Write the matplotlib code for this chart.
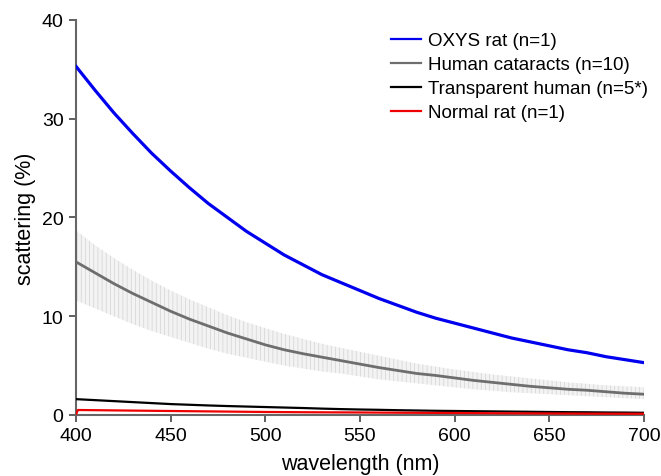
import matplotlib
matplotlib.use("Agg")
import matplotlib.pyplot as plt
import numpy as np

plt.rcParams['font.family'] = ['Liberation Sans', 'DejaVu Sans']
plt.rcParams['hatch.linewidth'] = 0.5

# values (every 10 nm)
wl = list(range(400, 701, 10))
oxys_rat = [35.3, 32.9, 30.6, 28.5, 26.5, 24.7, 23.0, 21.4, 20.0, 18.6,
            17.4, 16.2, 15.2, 14.2, 13.4, 12.6, 11.8, 11.1, 10.4, 9.8,
            9.3, 8.8, 8.3, 7.8, 7.4, 7.0, 6.6, 6.3, 5.9, 5.6, 5.3]
cataract = [15.5, 14.4, 13.3, 12.3, 11.4, 10.5, 9.7, 9.0, 8.3, 7.7,
            7.1, 6.6, 6.2, 5.85, 5.5, 5.15, 4.8, 4.5, 4.2, 4.0,
            3.75, 3.5, 3.3, 3.1, 2.9, 2.75, 2.6, 2.5, 2.35, 2.2, 2.1]
cataract_hi = [18.7, 17.2, 15.9, 14.7, 13.6, 12.6, 11.7, 10.9, 10.1, 9.4,
               8.8, 8.2, 7.7, 7.2, 6.8, 6.4, 6.0, 5.6, 5.2, 4.9,
               4.6, 4.35, 4.1, 3.9, 3.7, 3.5, 3.3, 3.15, 3.0, 2.9, 2.8]
cataract_lo = [11.6, 10.8, 10.0, 9.2, 8.5, 7.9, 7.3, 6.7, 6.2, 5.8,
               5.4, 5.0, 4.7, 4.4, 4.2, 3.9, 3.6, 3.4, 3.2, 3.0,
               2.8, 2.6, 2.45, 2.3, 2.2, 2.1, 2.0, 1.9, 1.8, 1.7, 1.6]
transp_human = [1.6, 1.5, 1.4, 1.3, 1.2, 1.1, 1.03, 0.96, 0.9, 0.85,
                0.8, 0.75, 0.7, 0.64, 0.59, 0.55, 0.52, 0.48, 0.45, 0.42,
                0.4, 0.38, 0.36, 0.34, 0.32, 0.3, 0.28, 0.27, 0.25, 0.24, 0.22]
red_wl = [400, 401, 425, 450, 475, 500, 525, 550, 575, 600, 625, 650, 675, 700]
normal_rat = [0.05, 0.5, 0.45, 0.4, 0.35, 0.3, 0.27, 0.25, 0.22, 0.2, 0.17, 0.15, 0.13, 0.12]

labels = ['OXYS rat (n=1)', 'Human cataracts (n=10)',
          'Transparent human (n=5*)', 'Normal rat (n=1)']

fig = plt.figure(figsize=(6.61, 4.77), dpi=100)
ax = fig.add_axes([0.115, 0.128, 0.859, 0.828])

# error band (dense vertical bars in the original)
ax.fill_between(wl, cataract_lo, cataract_hi, facecolor='#f3f3f3',
                edgecolor='#d2d2d2', hatch='||||', linewidth=0, zorder=1)

ax.plot(wl, oxys_rat, color='#0000ee', lw=2.3, label=labels[0], zorder=3)
ax.plot(wl, cataract, color='#6e6e6e', lw=2.0, label=labels[1], zorder=3)
ax.plot(wl, transp_human, color='black', lw=1.6, label=labels[2], zorder=3)
ax.plot(red_wl, normal_rat, color='#ee0000', lw=1.6, label=labels[3], zorder=3)

ax.set_xlim(400, 700)
ax.set_ylim(0, 40)
ax.set_xticks([400, 450, 500, 550, 600, 650, 700])
ax.set_yticks([0, 10, 20, 30, 40])

for s in ['top', 'right']:
    ax.spines[s].set_visible(False)
for s in ['left', 'bottom']:
    ax.spines[s].set_color('#666666')
    ax.spines[s].set_linewidth(1.5)
ax.tick_params(direction='out', length=5, width=1.2, color='#444444',
               labelsize=14, pad=4)

ax.set_xlabel('wavelength (nm)', fontsize=15.5, labelpad=6)
ax.set_ylabel('scattering (%)', fontsize=15.5, labelpad=4)

leg = ax.legend(loc='upper left', bbox_to_anchor=(391 / 661, 1 - 33 / 477),
                bbox_transform=fig.transFigure, frameon=False, fontsize=13.5,
                handlelength=1.6, handletextpad=0.4, labelspacing=0.37,
                borderpad=0, borderaxespad=0)
for h in leg.get_lines():
    h.set_linewidth(1.6)

fig.savefig('out.png', dpi=100)
